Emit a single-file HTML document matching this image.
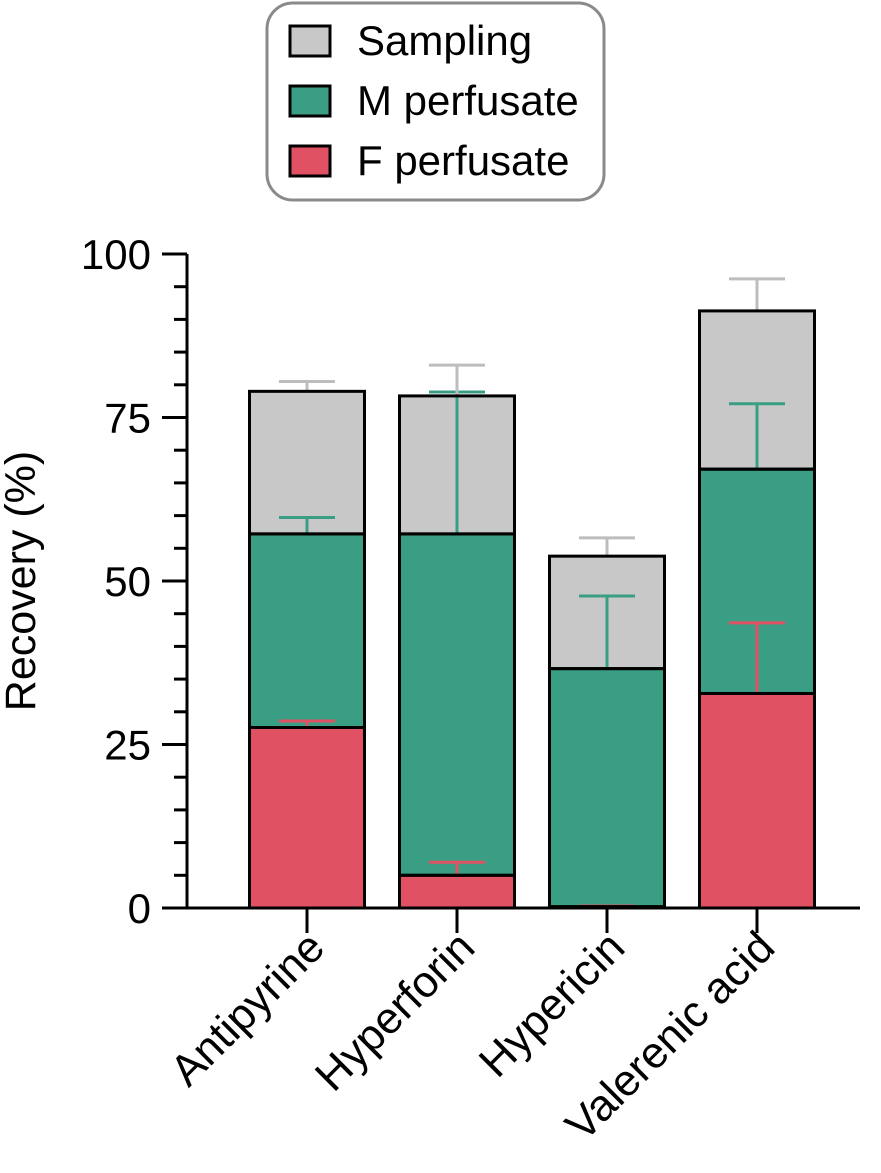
<!DOCTYPE html>
<html><head><meta charset="utf-8"><style>
body{margin:0;background:#fff;}
svg text{font-family:"Liberation Sans",Arial,sans-serif;}
</style></head><body>
<svg id="chart" width="881" height="1168" xmlns="http://www.w3.org/2000/svg">
<g>
<rect x="267" y="3" width="337" height="197" rx="26" fill="#fff" stroke="#8a8a8a" stroke-width="3"/>
<rect x="290" y="26" width="40" height="30" fill="#c8c8c8" stroke="#000" stroke-width="3"/>
<text x="357" y="55" font-size="42">Sampling</text>
<rect x="290" y="86" width="40" height="30" fill="#3a9e85" stroke="#000" stroke-width="3"/>
<text x="357" y="115" font-size="42">M perfusate</text>
<rect x="290" y="146" width="40" height="30" fill="#e05263" stroke="#000" stroke-width="3"/>
<text x="357" y="175" font-size="42">F perfusate</text>
</g>
<text transform="translate(35,581) rotate(-90)" text-anchor="middle" font-size="43">Recovery (%)</text>
<g id="plot"></g>
</svg>
<script>
const categories=["Antipyrine","Hyperforin","Hypericin","Valerenic acid"];
const fVals=[27.6,5.0,0.2,32.8];
const fErr=[1.0,2.0,0.1,10.8];
const mVals=[29.6,52.2,36.4,34.3];
const mErr=[2.5,21.7,11.1,10.0];
const sVals=[21.8,21.1,17.2,24.2];
const sErr=[1.5,4.7,2.8,4.9];
const yTicks=[0,25,50,75,100];
const ns="http://www.w3.org/2000/svg";
const plot=document.getElementById('plot');
const y0=908,pxPer=6.54,ax=187;
const Y=v=>y0-v*pxPer;
const X=i=>307+i*150;
const bw=115;
function mk(tag,attrs){const e=document.createElementNS(ns,tag);for(const k in attrs)e.setAttribute(k,attrs[k]);plot.appendChild(e);return e;}
const colors=["#e05263","#3a9e85","#c8c8c8"];
const errCol=["#e05263","#3a9e85","#bdbdbd"];
const series=[fVals,mVals,sVals],errs=[fErr,mErr,sErr],names=["f","m","sampling"];
categories.forEach((c,i)=>{
 let base=0;
 series.forEach((s,k)=>{
  const top=base+s[i];
  const r=mk('rect',{x:X(i)-bw/2,y:Y(top),width:bw,height:Y(base)-Y(top),fill:colors[k]});
  
  
  base=top;
 });
});
categories.forEach((c,i)=>{
 let base=0;
 series.forEach((s,k)=>{
  const top=base+s[i];
  const et=Y(top+errs[k][i]);
  const eg=mk('path',{d:`M${X(i)},${Y(top)}V${et}M${X(i)-28},${et}H${X(i)+28}`,stroke:errCol[k],'stroke-width':3,fill:'none'});
  
  
  base=top;
 });
});
categories.forEach((c,i)=>{
 let base=0;
 series.forEach((s,k)=>{const top=base+s[i];
  const o=mk('rect',{x:X(i)-bw/2,y:Y(top),width:bw,height:Y(base)-Y(top),fill:'none',stroke:'#000','stroke-width':3});
  
  
  base=top;});
 const t=mk('line',{x1:X(i),x2:X(i),y1:y0,y2:933,stroke:'#000','stroke-width':3});
 
 
 const lb=mk('text',{transform:`translate(${X(i)+20},${950}) rotate(-45)`,'text-anchor':'end','font-size':44});
 lb.textContent=c;
 
 
});
const yl=mk('line',{x1:ax,x2:ax,y1:Y(100),y2:y0,stroke:'#000','stroke-width':3});


const xl=mk('line',{x1:162,x2:860,y1:y0,y2:y0,stroke:'#000','stroke-width':3});


for(let v=0;v<=100;v+=5){
 const major=v%25===0;
 const t=mk('line',{x1:major?162:174,x2:ax,y1:Y(v),y2:Y(v),stroke:'#000','stroke-width':3});
 
 
}
yTicks.forEach(v=>{
 const t=mk('text',{x:151,y:Y(v)+15,'text-anchor':'end','font-size':42});
 t.textContent=v;
 
 
});
</script>
</body></html>
